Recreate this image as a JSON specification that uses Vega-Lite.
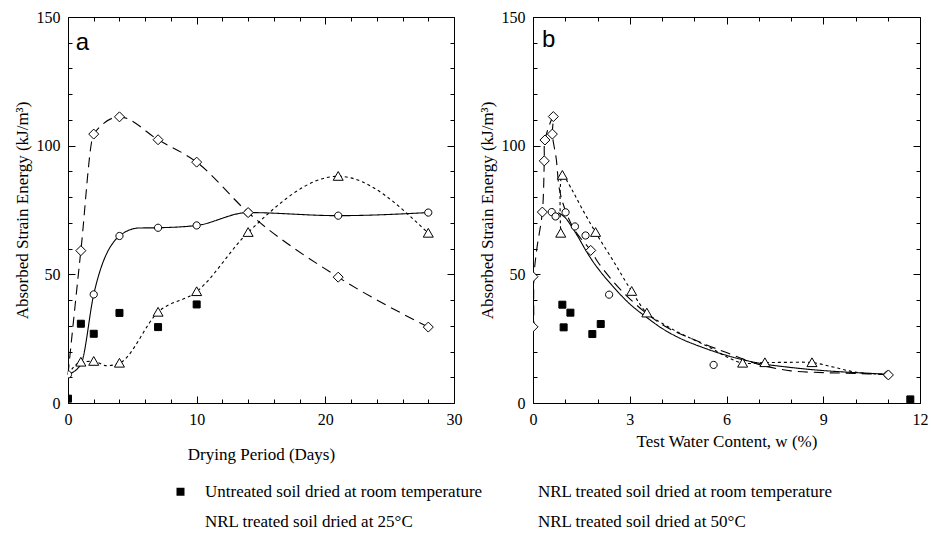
{
  "$schema": "https://vega.github.io/schema/vega-lite/v6.json",
  "background": "white",
  "padding": {"left": 12, "top": 8, "right": 3, "bottom": 3},
  "config": {
    "view": {"stroke": "black", "strokeWidth": 1},
    "axis": {"domain": false, "grid": false, "labelFont": "Liberation Serif", "labelFontSize": 16, "labelColor": "black", "titleFont": "Liberation Serif", "titleFontSize": 17, "titleFontWeight": "normal", "titleColor": "black", "tickColor": "black", "tickWidth": 1, "labelOverlap": false, "labelFlush": false, "labelPadding": 15},
    "legend": {"orient": "none", "legendX": 102, "legendY": 16, "columns": 2, "labelFont": "Liberation Serif", "labelFontSize": 17, "labelColor": "black", "labelLimit": 0, "symbolSize": 400, "symbolOpacity": 1, "symbolStrokeColor": "black", "symbolStrokeWidth": 1, "labelOffset": 14, "columnPadding": 7, "rowPadding": 11}
  },
  "resolve": {"scale": {"shape": "independent", "fill": "independent"}},
  "spacing": 0,
  "datasets": {
    "aPts": [
      {"series": "Untreated soil dried at room temperature", "days": 0, "energy": 1.7},
      {"series": "Untreated soil dried at room temperature", "days": 1, "energy": 30.8},
      {"series": "Untreated soil dried at room temperature", "days": 2, "energy": 26.9},
      {"series": "Untreated soil dried at room temperature", "days": 4, "energy": 35},
      {"series": "Untreated soil dried at room temperature", "days": 7, "energy": 29.5},
      {"series": "Untreated soil dried at room temperature", "days": 10, "energy": 38.3},
      {"series": "NRL treated soil dried at room temperature", "days": 0, "energy": 11.1},
      {"series": "NRL treated soil dried at room temperature", "days": 2, "energy": 42.2},
      {"series": "NRL treated soil dried at room temperature", "days": 4, "energy": 64.9},
      {"series": "NRL treated soil dried at room temperature", "days": 7, "energy": 68.1},
      {"series": "NRL treated soil dried at room temperature", "days": 10, "energy": 69},
      {"series": "NRL treated soil dried at room temperature", "days": 14, "energy": 74},
      {"series": "NRL treated soil dried at room temperature", "days": 21, "energy": 72.8},
      {"series": "NRL treated soil dried at room temperature", "days": 28, "energy": 74},
      {"series": "NRL treated soil dried at 25°C", "days": 1, "energy": 15.9},
      {"series": "NRL treated soil dried at 25°C", "days": 2, "energy": 16.2},
      {"series": "NRL treated soil dried at 25°C", "days": 4, "energy": 15.5},
      {"series": "NRL treated soil dried at 25°C", "days": 7, "energy": 35.3},
      {"series": "NRL treated soil dried at 25°C", "days": 10, "energy": 43.3},
      {"series": "NRL treated soil dried at 25°C", "days": 14, "energy": 66.3},
      {"series": "NRL treated soil dried at 25°C", "days": 21, "energy": 88.1},
      {"series": "NRL treated soil dried at 25°C", "days": 28, "energy": 66},
      {"series": "NRL treated soil dried at 50°C", "days": 1, "energy": 59.2},
      {"series": "NRL treated soil dried at 50°C", "days": 2, "energy": 104.5},
      {"series": "NRL treated soil dried at 50°C", "days": 4, "energy": 111.2},
      {"series": "NRL treated soil dried at 50°C", "days": 7, "energy": 102.3},
      {"series": "NRL treated soil dried at 50°C", "days": 10, "energy": 93.6},
      {"series": "NRL treated soil dried at 50°C", "days": 14, "energy": 74},
      {"series": "NRL treated soil dried at 50°C", "days": 21, "energy": 48.9},
      {"series": "NRL treated soil dried at 50°C", "days": 28, "energy": 29.5}
    ],
    "aCurve": [
      {"curve": "room", "days": 0, "energy": 11.1},
      {"curve": "room", "days": 1, "energy": 15},
      {"curve": "room", "days": 2, "energy": 42.2},
      {"curve": "room", "days": 4, "energy": 64.9},
      {"curve": "room", "days": 5.5, "energy": 68},
      {"curve": "room", "days": 7, "energy": 68.1},
      {"curve": "room", "days": 10, "energy": 69},
      {"curve": "room", "days": 14, "energy": 74},
      {"curve": "room", "days": 21, "energy": 72.8},
      {"curve": "room", "days": 28, "energy": 74},
      {"curve": "25C", "days": 0, "energy": 11.1},
      {"curve": "25C", "days": 1, "energy": 15.9},
      {"curve": "25C", "days": 2, "energy": 16.2},
      {"curve": "25C", "days": 3, "energy": 14.5},
      {"curve": "25C", "days": 4, "energy": 15.5},
      {"curve": "25C", "days": 7, "energy": 35.3},
      {"curve": "25C", "days": 10, "energy": 43.3},
      {"curve": "25C", "days": 14, "energy": 66.3},
      {"curve": "25C", "days": 21, "energy": 88.1},
      {"curve": "25C", "days": 28, "energy": 66},
      {"curve": "50C", "days": 0, "energy": 11.1},
      {"curve": "50C", "days": 1, "energy": 59.2},
      {"curve": "50C", "days": 2, "energy": 104.5},
      {"curve": "50C", "days": 4, "energy": 111.2},
      {"curve": "50C", "days": 7, "energy": 102.3},
      {"curve": "50C", "days": 10, "energy": 93.6},
      {"curve": "50C", "days": 14, "energy": 74},
      {"curve": "50C", "days": 21, "energy": 48.9},
      {"curve": "50C", "days": 28, "energy": 29.5}
    ],
    "bPts": [
      {"series": "Untreated soil dried at room temperature", "w": 0.91, "energy": 38.2},
      {"series": "Untreated soil dried at room temperature", "w": 1.16, "energy": 35.1},
      {"series": "Untreated soil dried at room temperature", "w": 0.95, "energy": 29.4},
      {"series": "Untreated soil dried at room temperature", "w": 1.84, "energy": 26.8},
      {"series": "Untreated soil dried at room temperature", "w": 2.1, "energy": 30.7},
      {"series": "Untreated soil dried at room temperature", "w": 11.7, "energy": 1.4},
      {"series": "NRL treated soil dried at room temperature", "w": 0.58, "energy": 74.2},
      {"series": "NRL treated soil dried at room temperature", "w": 0.7, "energy": 72.5},
      {"series": "NRL treated soil dried at room temperature", "w": 1.01, "energy": 74.1},
      {"series": "NRL treated soil dried at room temperature", "w": 1.3, "energy": 68.6},
      {"series": "NRL treated soil dried at room temperature", "w": 1.63, "energy": 65.1},
      {"series": "NRL treated soil dried at room temperature", "w": 2.36, "energy": 42.1},
      {"series": "NRL treated soil dried at room temperature", "w": 5.6, "energy": 14.8},
      {"series": "NRL treated soil dried at room temperature", "w": 11, "energy": 11},
      {"series": "NRL treated soil dried at 25°C", "w": 0.91, "energy": 88.5},
      {"series": "NRL treated soil dried at 25°C", "w": 0.86, "energy": 66},
      {"series": "NRL treated soil dried at 25°C", "w": 1.94, "energy": 66.3},
      {"series": "NRL treated soil dried at 25°C", "w": 3.06, "energy": 43.4},
      {"series": "NRL treated soil dried at 25°C", "w": 3.53, "energy": 35},
      {"series": "NRL treated soil dried at 25°C", "w": 6.5, "energy": 15.5},
      {"series": "NRL treated soil dried at 25°C", "w": 7.19, "energy": 15.7},
      {"series": "NRL treated soil dried at 25°C", "w": 8.65, "energy": 15.7},
      {"series": "NRL treated soil dried at 50°C", "w": 0, "energy": 29.6},
      {"series": "NRL treated soil dried at 50°C", "w": 0, "energy": 49.1},
      {"series": "NRL treated soil dried at 50°C", "w": 0.29, "energy": 74.2},
      {"series": "NRL treated soil dried at 50°C", "w": 0.35, "energy": 94.1},
      {"series": "NRL treated soil dried at 50°C", "w": 0.37, "energy": 102.2},
      {"series": "NRL treated soil dried at 50°C", "w": 0.6, "energy": 104.5},
      {"series": "NRL treated soil dried at 50°C", "w": 0.63, "energy": 111.3},
      {"series": "NRL treated soil dried at 50°C", "w": 1.79, "energy": 59.3},
      {"series": "NRL treated soil dried at 50°C", "w": 11.02, "energy": 10.9}
    ],
    "bCurve": [
      {"curve": "room", "i": 1, "w": 11, "energy": 11.2},
      {"curve": "room", "i": 2, "w": 10, "energy": 11.8},
      {"curve": "room", "i": 3, "w": 9, "energy": 12.6},
      {"curve": "room", "i": 4, "w": 8, "energy": 13.8},
      {"curve": "room", "i": 5, "w": 7, "energy": 15.5},
      {"curve": "room", "i": 6, "w": 6, "energy": 18.5},
      {"curve": "room", "i": 7, "w": 5, "energy": 22.8},
      {"curve": "room", "i": 8, "w": 4.5, "energy": 25.5},
      {"curve": "room", "i": 9, "w": 4, "energy": 29},
      {"curve": "room", "i": 10, "w": 3.5, "energy": 33.5},
      {"curve": "room", "i": 11, "w": 3, "energy": 38.5},
      {"curve": "room", "i": 12, "w": 2.5, "energy": 45},
      {"curve": "room", "i": 13, "w": 2, "energy": 52.5},
      {"curve": "room", "i": 14, "w": 1.7, "energy": 58},
      {"curve": "room", "i": 15, "w": 1.4, "energy": 64.5},
      {"curve": "room", "i": 16, "w": 1.2, "energy": 68.5},
      {"curve": "room", "i": 17, "w": 1.0, "energy": 72},
      {"curve": "room", "i": 18, "w": 0.78, "energy": 74},
      {"curve": "25C", "i": 1, "w": 11, "energy": 11},
      {"curve": "25C", "i": 2, "w": 10, "energy": 12},
      {"curve": "25C", "i": 3, "w": 9.3, "energy": 14},
      {"curve": "25C", "i": 4, "w": 8.65, "energy": 15.7},
      {"curve": "25C", "i": 5, "w": 7.9, "energy": 15.8},
      {"curve": "25C", "i": 6, "w": 7.19, "energy": 15.7},
      {"curve": "25C", "i": 7, "w": 6.5, "energy": 15.5},
      {"curve": "25C", "i": 8, "w": 6, "energy": 18},
      {"curve": "25C", "i": 9, "w": 5.5, "energy": 21.5},
      {"curve": "25C", "i": 10, "w": 5, "energy": 24.5},
      {"curve": "25C", "i": 11, "w": 4.5, "energy": 27.5},
      {"curve": "25C", "i": 12, "w": 4, "energy": 31},
      {"curve": "25C", "i": 13, "w": 3.53, "energy": 35},
      {"curve": "25C", "i": 14, "w": 3.06, "energy": 43.4},
      {"curve": "25C", "i": 15, "w": 2.5, "energy": 55},
      {"curve": "25C", "i": 16, "w": 1.94, "energy": 66.3},
      {"curve": "25C", "i": 17, "w": 1.5, "energy": 76},
      {"curve": "25C", "i": 18, "w": 1.2, "energy": 83},
      {"curve": "25C", "i": 19, "w": 0.91, "energy": 88.5},
      {"curve": "25C", "i": 20, "w": 0.86, "energy": 66},
      {"curve": "50C", "i": 1, "w": 11, "energy": 11},
      {"curve": "50C", "i": 2, "w": 10, "energy": 11.5},
      {"curve": "50C", "i": 3, "w": 9, "energy": 11.8},
      {"curve": "50C", "i": 4, "w": 8, "energy": 12.5},
      {"curve": "50C", "i": 5, "w": 7, "energy": 15},
      {"curve": "50C", "i": 6, "w": 6, "energy": 19.6},
      {"curve": "50C", "i": 7, "w": 5.5, "energy": 22},
      {"curve": "50C", "i": 8, "w": 5, "energy": 24.6},
      {"curve": "50C", "i": 9, "w": 4.5, "energy": 27.2},
      {"curve": "50C", "i": 10, "w": 4, "energy": 30.5},
      {"curve": "50C", "i": 11, "w": 3.5, "energy": 35},
      {"curve": "50C", "i": 12, "w": 3, "energy": 40.5},
      {"curve": "50C", "i": 13, "w": 2.5, "energy": 47},
      {"curve": "50C", "i": 14, "w": 2, "energy": 55},
      {"curve": "50C", "i": 15, "w": 1.79, "energy": 59.3},
      {"curve": "50C", "i": 16, "w": 1.3, "energy": 67},
      {"curve": "50C", "i": 17, "w": 1.0, "energy": 75},
      {"curve": "50C", "i": 18, "w": 0.82, "energy": 83},
      {"curve": "50C", "i": 19, "w": 0.72, "energy": 95},
      {"curve": "50C", "i": 20, "w": 0.6, "energy": 104.5},
      {"curve": "50C", "i": 21, "w": 0.63, "energy": 111.3},
      {"curve": "50C", "i": 22, "w": 0.37, "energy": 102.2},
      {"curve": "50C", "i": 23, "w": 0.35, "energy": 94.1},
      {"curve": "50C", "i": 24, "w": 0.29, "energy": 74.2},
      {"curve": "50C", "i": 25, "w": 0.12, "energy": 60},
      {"curve": "50C", "i": 26, "w": 0.03, "energy": 49.1},
      {"curve": "50C", "i": 27, "w": 0.03, "energy": 29.6}
    ]
  },
  "vconcat": [
    {
      "spacing": 14,
      "hconcat": [
        {
          "width": 386,
          "height": 386,
          "layer": [
            {
              "data": {"name": "aCurve"},
              "mark": {"type": "line", "interpolate": "monotone", "color": "black", "strokeWidth": 1.1},
              "encoding": {
                "x": {"field": "days", "type": "quantitative", "scale": {"domain": [0, 30], "nice": false, "zero": false},
                      "axis": {"orient": "bottom", "title": "Drying Period (Days)", "titlePadding": 16, "values": [0,2,4,6,8,10,12,14,16,18,20,22,24,26,28,30], "labelExpr": "datum.value % 10 === 0 ? datum.label : ''", "tickSize": {"condition": {"test": "datum.value % 10 === 0", "value": -7}, "value": -4}}},
                "y": {"field": "energy", "type": "quantitative", "scale": {"domain": [0, 150], "nice": false, "zero": false},
                      "axis": {"orient": "left", "title": "Absorbed Strain Energy (kJ/m³)", "titlePadding": 5, "values": [0,10,20,30,40,50,60,70,80,90,100,110,120,130,140,150], "labelExpr": "datum.value % 50 === 0 ? datum.label : ''", "tickSize": {"condition": {"test": "datum.value % 50 === 0", "value": -7}, "value": -4}}},
                "strokeDash": {"field": "curve", "type": "nominal", "scale": {"domain": ["room", "25C", "50C"], "range": [[1, 0], [3, 3], [10, 6]]}, "legend": null}
              }
            },
            {
              "data": {"name": "aPts"},
              "mark": {"type": "point", "filled": true, "stroke": "black", "strokeWidth": 1, "opacity": 1, "size": 100, "clip": true},
              "encoding": {
                "x": {"field": "days", "type": "quantitative", "axis": {"orient": "top", "title": null, "labels": false, "values": [0,2,4,6,8,10,12,14,16,18,20,22,24,26,28,30], "tickSize": {"condition": {"test": "datum.value % 10 === 0", "value": -7}, "value": -4}}},
                "y": {"field": "energy", "type": "quantitative", "axis": {"orient": "right", "title": null, "labels": false, "values": [0,10,20,30,40,50,60,70,80,90,100,110,120,130,140,150], "tickSize": {"condition": {"test": "datum.value % 50 === 0", "value": -7}, "value": -4}}},
                "shape": {"field": "series", "type": "nominal", "scale": {"domain": ["Untreated soil dried at room temperature", "NRL treated soil dried at 25°C", "NRL treated soil dried at room temperature", "NRL treated soil dried at 50°C"], "range": ["M-0.7,-0.7L0.7,-0.7L0.7,0.7L-0.7,0.7Z", "M0,-0.95L1,0.8L-1,0.8Z", "M0.72,0A0.72,0.72,0,1,1,-0.72,0A0.72,0.72,0,1,1,0.72,0Z", "M-1,0L0,-1L1,0L0,1Z"]}, "legend": null},
                "fill": {"field": "series", "type": "nominal", "scale": {"domain": ["Untreated soil dried at room temperature", "NRL treated soil dried at 25°C", "NRL treated soil dried at room temperature", "NRL treated soil dried at 50°C"], "range": ["black", "white", "white", "white"]}, "legend": null}
              }
            },
            {
              "data": {"values": [{"label": "a", "days": 0.6, "energy": 140}]},
              "mark": {"type": "text", "font": "Liberation Sans", "fontSize": 24, "align": "left", "baseline": "middle", "color": "black"},
              "encoding": {
                "x": {"field": "days", "type": "quantitative", "axis": null},
                "y": {"field": "energy", "type": "quantitative", "axis": null},
                "text": {"field": "label"}
              }
            }
          ],
          "resolve": {"axis": {"x": "independent", "y": "independent"}}
        },
        {
          "width": 387,
          "height": 386,
          "layer": [
            {
              "data": {"name": "bCurve"},
              "mark": {"type": "line", "interpolate": "catmull-rom", "color": "black", "strokeWidth": 1.1, "clip": true},
              "encoding": {
                "x": {"field": "w", "type": "quantitative", "scale": {"domain": [0, 12], "nice": false, "zero": false},
                      "axis": {"orient": "bottom", "title": "Test Water Content, w (%)", "titlePadding": 3, "values": [0,1,2,3,4,5,6,7,8,9,10,11,12], "labelExpr": "datum.value % 3 === 0 ? datum.label : ''", "tickSize": {"condition": {"test": "datum.value % 3 === 0", "value": -7}, "value": -4}}},
                "y": {"field": "energy", "type": "quantitative", "scale": {"domain": [0, 150], "nice": false, "zero": false},
                      "axis": {"orient": "left", "title": "Absorbed Strain Energy (kJ/m³)", "titlePadding": 5, "values": [0,10,20,30,40,50,60,70,80,90,100,110,120,130,140,150], "labelExpr": "datum.value % 50 === 0 ? datum.label : ''", "tickSize": {"condition": {"test": "datum.value % 50 === 0", "value": -7}, "value": -4}}},
                "order": {"field": "i", "type": "quantitative"},
                "strokeDash": {"field": "curve", "type": "nominal", "scale": {"domain": ["room", "25C", "50C"], "range": [[1, 0], [3, 3], [10, 6]]}, "legend": null}
              }
            },
            {
              "data": {"name": "bPts"},
              "mark": {"type": "point", "filled": true, "stroke": "black", "strokeWidth": 1, "opacity": 1, "size": 100, "clip": true},
              "encoding": {
                "x": {"field": "w", "type": "quantitative", "axis": {"orient": "top", "title": null, "labels": false, "values": [0,1,2,3,4,5,6,7,8,9,10,11,12], "tickSize": {"condition": {"test": "datum.value % 3 === 0", "value": -7}, "value": -4}}},
                "y": {"field": "energy", "type": "quantitative", "axis": {"orient": "right", "title": null, "labels": false, "values": [0,10,20,30,40,50,60,70,80,90,100,110,120,130,140,150], "tickSize": {"condition": {"test": "datum.value % 50 === 0", "value": -7}, "value": -4}}},
                "shape": {"field": "series", "type": "nominal", "scale": {"domain": ["Untreated soil dried at room temperature", "NRL treated soil dried at 25°C", "NRL treated soil dried at room temperature", "NRL treated soil dried at 50°C"], "range": ["M-0.7,-0.7L0.7,-0.7L0.7,0.7L-0.7,0.7Z", "M0,-0.95L1,0.8L-1,0.8Z", "M0.72,0A0.72,0.72,0,1,1,-0.72,0A0.72,0.72,0,1,1,0.72,0Z", "M-1,0L0,-1L1,0L0,1Z"]}, "legend": null},
                "fill": {"field": "series", "type": "nominal", "scale": {"domain": ["Untreated soil dried at room temperature", "NRL treated soil dried at 25°C", "NRL treated soil dried at room temperature", "NRL treated soil dried at 50°C"], "range": ["black", "white", "white", "white"]}, "legend": null}
              }
            },
            {
              "data": {"values": [{"label": "b", "w": 0.28, "energy": 141}]},
              "mark": {"type": "text", "font": "Liberation Sans", "fontSize": 24, "align": "left", "baseline": "middle", "color": "black"},
              "encoding": {
                "x": {"field": "w", "type": "quantitative", "axis": null},
                "y": {"field": "energy", "type": "quantitative", "axis": null},
                "text": {"field": "label"}
              }
            }
          ],
          "resolve": {"axis": {"x": "independent", "y": "independent"}}
        }
      ]
    },
    {
      "width": 1,
      "height": 1,
      "view": {"stroke": null},
      "data": {"name": "aPts"},
      "mark": {"type": "point", "filled": true, "stroke": "black", "strokeWidth": 1, "opacity": 1, "size": 0},
      "encoding": {
        "shape": {"field": "series", "type": "nominal", "scale": {"domain": ["Untreated soil dried at room temperature", "NRL treated soil dried at 25°C", "NRL treated soil dried at room temperature", "NRL treated soil dried at 50°C"], "range": ["M-0.4,-0.4L0.4,-0.4L0.4,0.4L-0.4,0.4Z", "M-2.1,0L-1.7,0M-1.4,0L-1,0M1,0L1.4,0M1.7,0L2.1,0M0,-0.45L0.5,0.4L-0.5,0.4Z", "M-2.1,0L-0.4,0M0.4,0L2.1,0M0.4,0A0.4,0.4,0,1,1,-0.4,0A0.4,0.4,0,1,1,0.4,0Z", "M-2.1,0L-1.2,0M0,-0.5L0.5,0L0,0.5L-0.5,0ZM1.3,0L1.6,0"]}, "legend": {"title": null}},
        "fill": {"field": "series", "type": "nominal", "scale": {"domain": ["Untreated soil dried at room temperature", "NRL treated soil dried at 25°C", "NRL treated soil dried at room temperature", "NRL treated soil dried at 50°C"], "range": ["black", "white", "white", "white"]}, "legend": {"title": null}}
      }
    }
  ]
}
